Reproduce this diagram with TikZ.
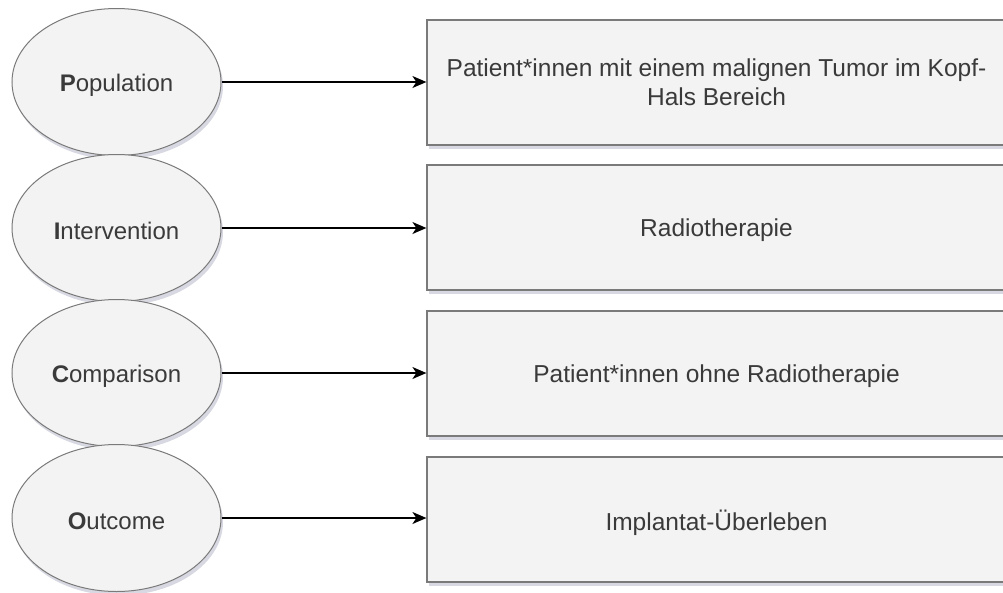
\documentclass[tikz,border=0pt]{standalone}
\usepackage{fontspec}
\setmainfont{Liberation Sans}
\usetikzlibrary{shapes.geometric,shadows,arrows.meta}
\definecolor{fillc}{HTML}{F3F3F3}
\definecolor{linec}{HTML}{7A7A7A}
\definecolor{textc}{HTML}{3A3A3A}
\definecolor{shadc}{HTML}{8C90A8}
\newcommand{\dn}[1]{\raisebox{-3pt}[\height][\depth]{#1}}
\begin{document}
\begin{tikzpicture}[x=1pt,y=-1pt,
  shad/.style={drop shadow={shadow xshift=2pt,shadow yshift=-4pt,fill=shadc,opacity=0.35}},
  pico/.style={ellipse,draw=linec,line width=1pt,fill=fillc,shad,minimum width=209pt,minimum height=147pt,inner sep=0pt,text=textc,font=\fontsize{24}{29}\selectfont},
  valbox/.style={rectangle,draw=linec,line width=1.2pt,fill=fillc,shad,minimum width=579pt,minimum height=125pt,inner sep=0pt,text=textc,font=\fontsize{24.5}{29}\selectfont,align=center},
  conn/.style={-{Stealth[length=14pt,width=12pt,inset=4pt]},line width=1.5pt,black}]
\useasboundingbox (0,0) rectangle (1003,592);
\begin{scope}
\clip (0,0) rectangle (1003,592);
\node[pico] (p) at (116.5,82) {\dn{\textbf{P}opulation}};
\node[pico] (i) at (116.5,228) {\dn{\textbf{I}ntervention}};
\node[pico] (c) at (116.5,373) {\dn{\textbf{C}omparison}};
\node[pico] (o) at (116.5,518) {\dn{\textbf{O}utcome}};
\node[valbox] (bp) at (716.5,82.5) {Patient*innen mit einem malignen Tumor im Kopf-\\Hals Bereich};
\node[valbox] (bi) at (716.5,227.5) {\dn{Radiotherapie}};
\node[valbox] (bc) at (716.5,373.5) {\dn{Patient*innen ohne Radiotherapie}};
\node[valbox] (bo) at (716.5,519.5) {\dn{Implantat-Überleben}};
\draw[conn] (p.east) -- (p.east -| bp.west);
\draw[conn] (i.east) -- (i.east -| bi.west);
\draw[conn] (c.east) -- (c.east -| bc.west);
\draw[conn] (o.east) -- (o.east -| bo.west);
\end{scope}
\end{tikzpicture}
\end{document}
